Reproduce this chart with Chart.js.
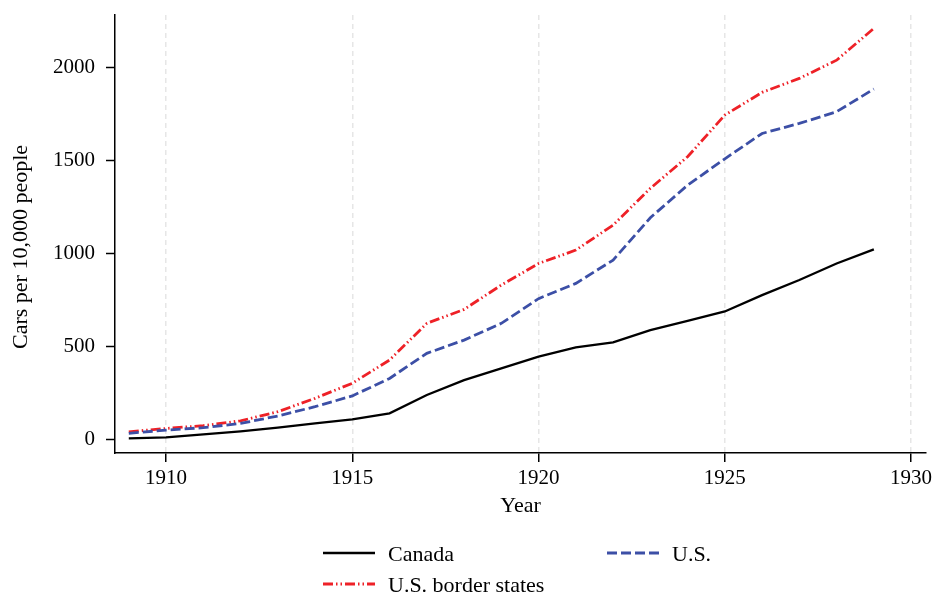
<!DOCTYPE html>
<html>
<head>
<meta charset="utf-8">
<script src="https://cdn.jsdelivr.net/npm/chart.js@4"></script>
<style>
  body { margin: 0; background: #fff; }
  canvas { display: block; }
</style>
</head>
<body>
<canvas id="carsChart" width="932" height="594"></canvas>
<script>
// data (cars per 10,000 people)
const years = [1909, 1910, 1911, 1912, 1913, 1914, 1915, 1916, 1917, 1918, 1919,
  1920, 1921, 1922, 1923, 1924, 1925, 1926, 1927, 1928, 1929]
const canada = [4, 9, 25, 41, 61, 84, 106, 138, 237, 317, 380,
  443, 493, 520, 586, 636, 686, 774, 855, 944, 1020]
const us = [31, 48, 61, 84, 124, 174, 232, 326, 461, 532, 622,
  755, 837, 962, 1190, 1365, 1507, 1643, 1697, 1760, 1882]
const borderStates = [39, 57, 72, 98, 147, 219, 300, 425, 622, 697, 828,
  944, 1016, 1150, 1348, 1518, 1742, 1864, 1939, 2037, 2208]

const xTicks = [1910, 1915, 1920, 1925, 1930]
const yTicks = [0, 500, 1000, 1500, 2000]

const seriesNames = ['Canada', 'U.S.', 'U.S. border states']
const yTitle = 'Cars per 10,000 people'

const serif = "'Liberation Serif', 'DejaVu Serif', serif"

const toPoints = (vals) => vals.map((v, i) => ({x: years[i], y: v}))

// y title + two-column legend under the axis (stata style)
const legendPlugin = {
  id: 'stataLegend',
  afterDraw(chart) {
    const ctx = chart.ctx
    ctx.save()
    ctx.fillStyle = '#000'
    ctx.font = '22px ' + serif
    ctx.textAlign = 'center'
    ctx.textBaseline = 'middle'
    ctx.translate(21, 247)
    ctx.rotate(-Math.PI / 2)
    ctx.fillText(yTitle, 0, 0)
    ctx.restore()

    const slots = [
      {ds: 0, x: 323, y: 554},
      {ds: 1, x: 607, y: 554},
      {ds: 2, x: 323, y: 585}
    ]
    slots.forEach((s) => {
      const d = chart.data.datasets[s.ds]
      ctx.save()
      ctx.strokeStyle = d.borderColor
      ctx.lineWidth = d.borderWidth
      ctx.setLineDash(d.borderDash || [])
      ctx.beginPath()
      ctx.moveTo(s.x, s.y - 1)
      ctx.lineTo(s.x + 52, s.y - 1)
      ctx.stroke()
      ctx.setLineDash([])
      ctx.fillStyle = '#000'
      ctx.font = '22px ' + serif
      ctx.textBaseline = 'middle'
      ctx.textAlign = 'left'
      ctx.fillText(d.label, s.x + 65, s.y + 1)
      ctx.restore()
    })
  }
}

new Chart(document.getElementById('carsChart'), {
  type: 'line',
  data: {
    datasets: [
      {label: seriesNames[0], data: toPoints(canada), borderColor: '#000000',
        borderWidth: 2.3, pointRadius: 0, tension: 0},
      {label: seriesNames[1], data: toPoints(us), borderColor: '#3c4fa6',
        borderWidth: 2.8, borderDash: [10, 4], pointRadius: 0, tension: 0},
      {label: seriesNames[2], data: toPoints(borderStates), borderColor: '#ee2127',
        borderWidth: 2.8, borderDash: [10, 3, 1.5, 3, 1.5, 3], pointRadius: 0, tension: 0}
    ]
  },
  options: {
    responsive: false,
    animation: false,
    layout: {padding: {left: 0, top: 15, right: 6, bottom: 0}},
    plugins: {legend: {display: false}, tooltip: {enabled: false}},
    scales: {
      x: {
        type: 'linear',
        min: 1908.63,
        max: 1930.4,
        afterBuildTicks: (scale) => { scale.ticks = xTicks.map((v) => ({value: v})) },
        afterFit: (scale) => {
          scale.height = 141
          scale.paddingLeft = 0
          scale.paddingRight = 0
        },
        ticks: {color: '#000', font: {family: serif, size: 21}, padding: 4,
          maxRotation: 0, callback: (v) => String(v)},
        grid: {color: '#e6e6e6', lineWidth: 1.5, tickColor: '#000', tickLength: 9,
          tickWidth: 1.5, tickBorderDash: []},
        border: {color: '#000', width: 1.5, dash: [5, 4]},
        title: {display: true, text: 'Year', color: '#000',
          font: {family: serif, size: 22}, padding: {top: 0, bottom: 75}}
      },
      y: {
        min: -75,
        max: 2280,
        afterBuildTicks: (scale) => { scale.ticks = yTicks.map((v) => ({value: v})) },
        afterFit: (scale) => {
          scale.width = 115
          scale.paddingTop = 0
          scale.paddingBottom = 0
        },
        ticks: {color: '#000', font: {family: serif, size: 21}, padding: 11,
          callback: (v) => String(v)},
        grid: {drawOnChartArea: false, tickColor: '#000', tickLength: 9, tickWidth: 1.5},
        border: {color: '#000', width: 1.5}
      }
    }
  },
  plugins: [legendPlugin]
})
</script>
</body>
</html>
